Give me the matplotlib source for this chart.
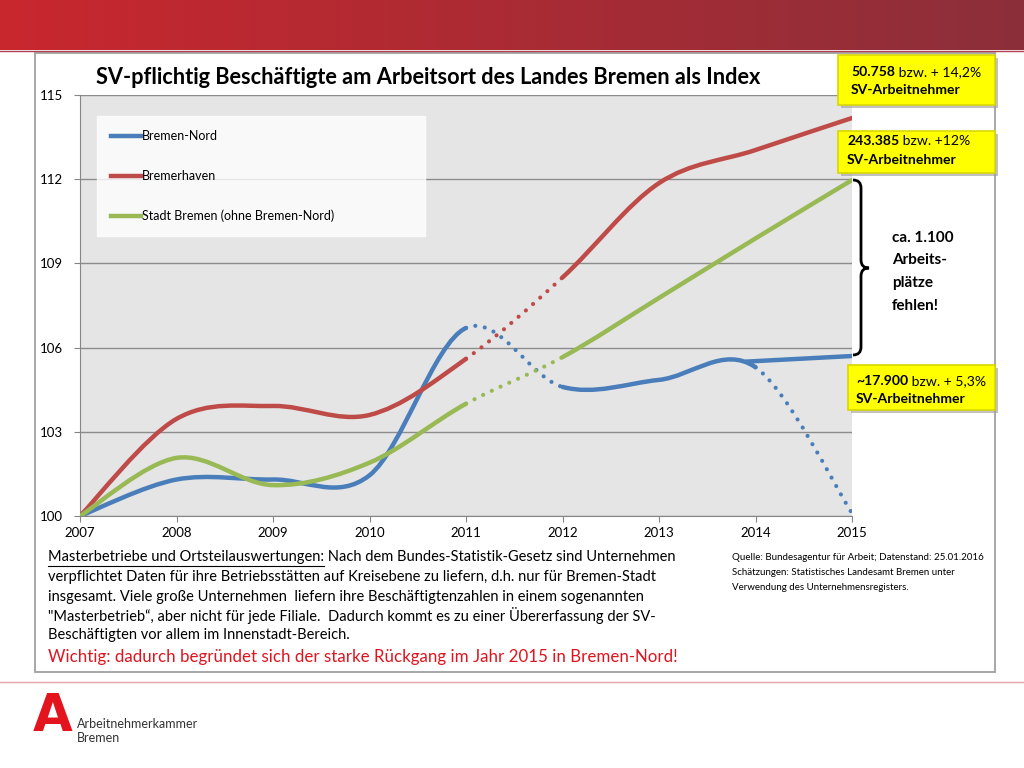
import numpy as np
import matplotlib
matplotlib.use('Agg')
import matplotlib.pyplot as plt
from matplotlib.path import Path
from matplotlib.patches import PathPatch, Rectangle
from matplotlib.lines import Line2D

plt.rcParams['font.family'] = ['Lato', 'DejaVu Sans']

# index values (2007 = 100)
years = [2007, 2008, 2009, 2010, 2011, 2012, 2013, 2014, 2015]
bremen_nord = [100, 101.3, 101.3, 101.45, 106.7, 104.6, 104.85, 105.3, 100.1]
bremerhaven = [100, 103.46, 103.92, 103.6, 105.6, 108.5, 111.86, 113.04, 114.18]
stadt_bremen = [100, 102.07, 101.1, 101.9, 104.0, 105.66, 107.77, 109.89, 111.97]
# estimated Bremen-Nord without the master-company effect
nord_est_x = [2013.9, 2015]
nord_est_y = [105.5, 105.7]

labels = ['Bremen-Nord', 'Bremerhaven', 'Stadt Bremen (ohne Bremen-Nord)']
colors = ['#4A7EBB', '#BE4B48', '#98B954']
yticks = [100, 103, 106, 109, 112, 115]


def smooth_path(xs, ys, i0, i1):
    # excel-like smoothed line (catmull-rom as cubic bezier) from point i0 to i1
    n = len(xs)
    verts = [(xs[i0], ys[i0])]
    codes = [Path.MOVETO]
    for i in range(i0, i1):
        a = max(i - 1, 0)
        b = min(i + 2, n - 1)
        c1 = (xs[i] + (xs[i + 1] - xs[a]) / 6, ys[i] + (ys[i + 1] - ys[a]) / 6)
        c2 = (xs[i + 1] - (xs[b] - xs[i]) / 6, ys[i + 1] - (ys[b] - ys[i]) / 6)
        verts += [c1, c2, (xs[i + 1], ys[i + 1])]
        codes += [Path.CURVE4] * 3
    return Path(verts, codes)


fig = plt.figure(figsize=(10.24, 7.68), dpi=100)

ax = fig.add_axes([80 / 1024, (768 - 516) / 768, 772 / 1024, 421 / 768], zorder=2)
ax.set_facecolor('#E5E5E5')
ax.set_xlim(2007, 2015)
ax.set_ylim(100, 115)

solid = {0: [(0, 4), (5, 7)], 1: [(0, 4), (5, 8)], 2: [(0, 4), (5, 8)]}
dotted = {0: [(4, 5), (7, 8)], 1: [(4, 5)], 2: [(4, 5)]}
for k, ys in enumerate([bremen_nord, bremerhaven, stadt_bremen]):
    for i0, i1 in solid[k]:
        ax.add_patch(PathPatch(smooth_path(years, ys, i0, i1), fill=False,
                               edgecolor=colors[k], lw=3.2, capstyle='round', zorder=3))
    for i0, i1 in dotted[k]:
        ax.add_patch(PathPatch(smooth_path(years, ys, i0, i1), fill=False,
                               edgecolor=colors[k], lw=3.0, capstyle='round',
                               linestyle=(0, (0.01, 2.3)), zorder=3))
ax.plot(nord_est_x, nord_est_y, color=colors[0], lw=3.2, solid_capstyle='round', zorder=3)

ax.set_xticks(years)
ax.set_yticks(yticks)
ax.yaxis.grid(True, color='#8C8C8C', lw=1)
ax.set_axisbelow(True)
for s in ['top', 'right']:
    ax.spines[s].set_visible(False)
for s in ['left', 'bottom']:
    ax.spines[s].set_color('#868686')
ax.tick_params(axis='both', colors='#868686', labelcolor='black', length=4,
               labelsize=9.5, direction='out')
ax.tick_params(axis='y', pad=8)
ax.tick_params(axis='x', pad=4)

handles = [Line2D([], [], color=c, lw=3.2) for c in colors]
leg = ax.legend(handles, labels, loc='upper left',
                bbox_to_anchor=(17 / 772, 0.667, 328 / 772, 0.283), mode='expand',
                borderaxespad=0, fontsize=9, frameon=True, fancybox=False,
                labelspacing=2.2, handlelength=2.4, handletextpad=0.05, borderpad=1.15)
leg.get_frame().set_facecolor('white')
leg.get_frame().set_edgecolor('white')

# overlay in pixel coordinates for the slide decorations
ov = fig.add_axes([0, 0, 1, 1], zorder=5)
ov.patch.set_visible(False)
ov.axis('off')

grad = np.linspace(0, 1, 256)
c0 = np.array([201, 39, 46]) / 255
c1 = np.array([140, 47, 58]) / 255
img = (c0[None, :] * (1 - grad[:, None]) + c1[None, :] * grad[:, None])[None, :, :]
ov.imshow(img, extent=(0, 1024, 50, 0), aspect='auto')
ov.plot([0, 1024], [51, 51], color='#B04050', lw=1)
ov.set_xlim(0, 1024)
ov.set_ylim(768, 0)

ov.add_patch(Rectangle((35, 53), 960, 619, fill=False, edgecolor='#A0A0A0', lw=1.3))
ov.plot([0, 1024], [682, 682], color='#E8A2AA', lw=1)

ov.text(96, 78, 'SV-pflichtig Beschäftigte am Arbeitsort des Landes Bremen als Index',
        fontsize=15.7, fontweight='bold', va='center', ha='left')

renderer = fig.canvas.get_renderer()


def runs(x, y, parts, size, color='black'):
    for s, w in parts:
        t = ov.text(x, y, s, fontsize=size, fontweight=w, color=color, va='center', ha='left')
        bb = t.get_window_extent(renderer)
        x = ov.transData.inverted().transform((bb.x1, bb.y0))[0]
    return x


# yellow callouts
boxes = [(838, 55, 157, 50, 851, 72, 90, '50.758', ' bzw. + 14,2%'),
         (838, 131, 157, 42, 847, 141, 160, '243.385', ' bzw. +12%'),
         (848, 365, 147, 45, 856, 381, 399, '~17.900', ' bzw. + 5,3%')]
for bx, by, bw, bh, tx, ty1, ty2, num, rest in boxes:
    ov.add_patch(Rectangle((bx + 3, by + 3), bw, bh, facecolor='#9A9A9A', edgecolor='none', alpha=0.6))
    ov.add_patch(Rectangle((bx, by), bw, bh, facecolor='#FFFF00', edgecolor='#D8D800', lw=1.2))
    runs(tx, ty1, [(num, 'bold'), (rest, 'normal')], 10.1)
    runs(tx, ty2, [('SV-Arbeitnehmer', 'bold')], 10.1)

# curly bracket
bv = [(853, 180), (861, 180), (861, 188), (861, 196),
      (861, 260), (861, 268), (869, 268), (861, 268), (861, 276),
      (861, 347), (861, 355), (853, 355)]
bc = [Path.MOVETO, Path.CURVE3, Path.CURVE3, Path.LINETO,
      Path.LINETO, Path.CURVE3, Path.CURVE3, Path.CURVE3, Path.CURVE3,
      Path.LINETO, Path.CURVE3, Path.CURVE3]
ov.add_patch(PathPatch(Path(bv, bc), fill=False, edgecolor='black', lw=2))
for i, s in enumerate(['ca. 1.100', 'Arbeits-', 'plätze', 'fehlen!']):
    ov.text(892, 238 + i * 22.5, s, fontsize=11, fontweight='bold', va='center', ha='left')

# explanatory paragraph
fs = 10.55
x_end = runs(48, 557, [('Masterbetriebe und Ortsteilauswertungen:', 'normal')], fs)
ov.plot([48, x_end], [565.5, 565.5], color='black', lw=0.8)
runs(x_end, 557, [(' Nach dem Bundes-Statistik-Gesetz sind Unternehmen', 'normal')], fs)
para = ['verpflichtet Daten für ihre Betriebsstätten auf Kreisebene zu liefern, d.h. nur für Bremen-Stadt',
        'insgesamt. Viele große Unternehmen  liefern ihre Beschäftigtenzahlen in einem sogenannten',
        '"Masterbetrieb\u201c, aber nicht für jede Filiale.  Dadurch kommt es zu einer Übererfassung der SV-',
        'Beschäftigten vor allem im Innenstadt-Bereich.']
for i, s in enumerate(para):
    ov.text(48, 577 + i * 19.5, s, fontsize=fs, va='center', ha='left')
ov.text(48, 657, 'Wichtig: dadurch begründet sich der starke Rückgang im Jahr 2015 in Bremen-Nord!',
        fontsize=12.15, color='#E0141E', va='center', ha='left')

src = ['Quelle: Bundesagentur für Arbeit; Datenstand: 25.01.2016',
       'Schätzungen: Statistisches Landesamt Bremen unter',
       'Verwendung des Unternehmensregisters.']
for i, s in enumerate(src):
    ov.text(732, 558 + i * 14.5, s, fontsize=7, va='center', ha='left')

# logo
ov.text(53, 731, 'A', fontsize=37, fontweight='bold', color='#E3141E', family='DejaVu Sans',
        va='baseline', ha='center')
ov.text(77, 724, 'Arbeitnehmerkammer', fontsize=9, color='#333333', va='center', ha='left')
ov.text(77, 738, 'Bremen', fontsize=9, color='#333333', va='center', ha='left')

fig.savefig('out.png', dpi=100)
